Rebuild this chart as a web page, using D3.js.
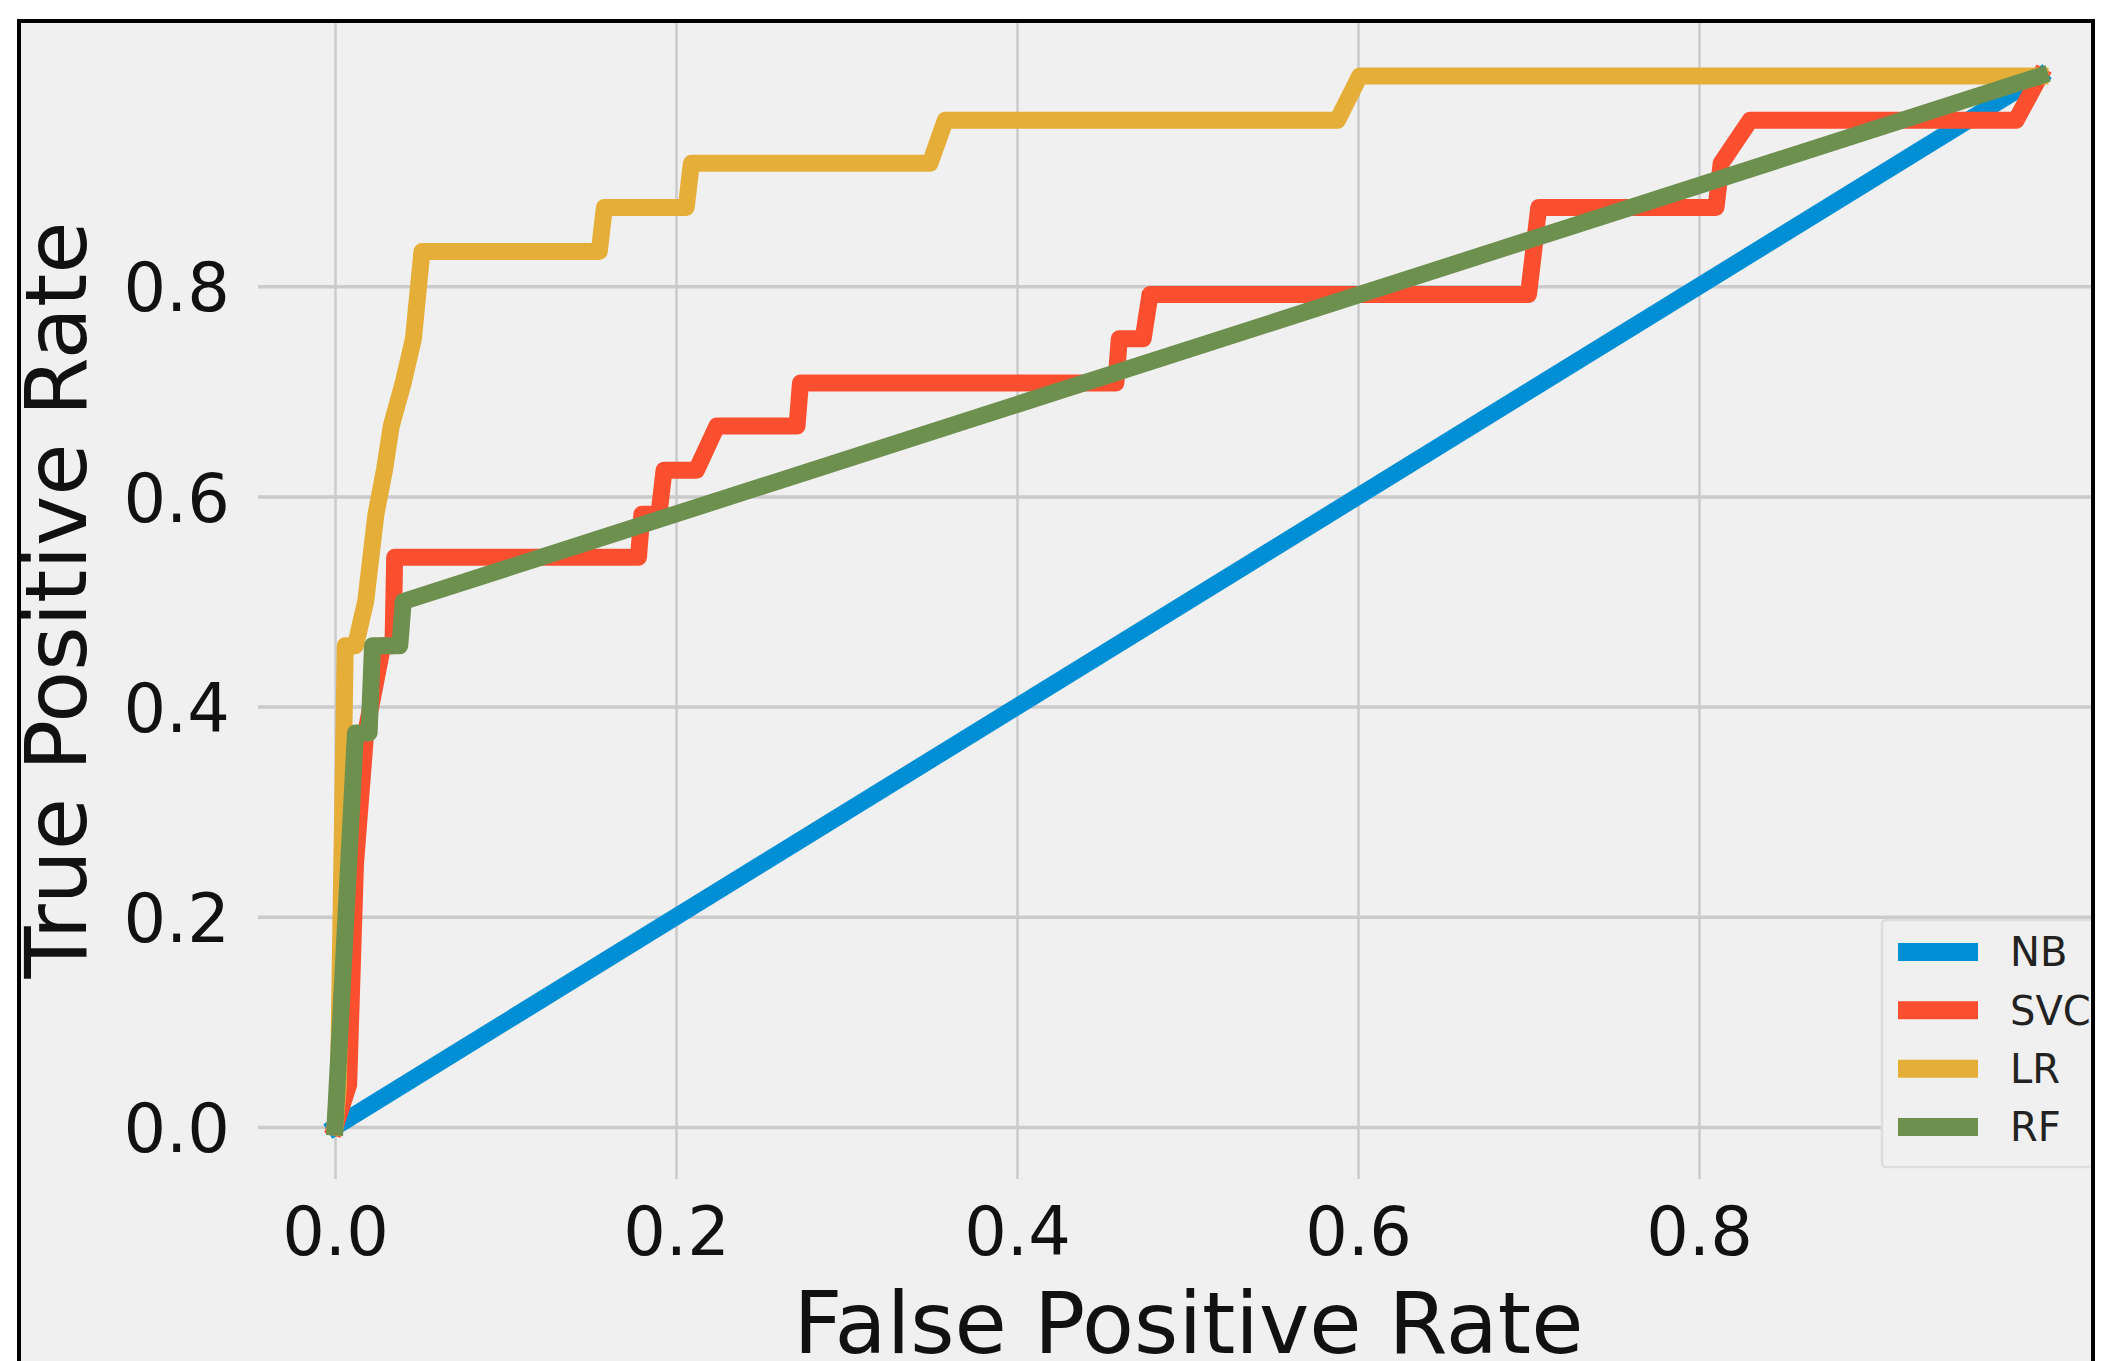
<!DOCTYPE html>
<html lang="en">
<head>
  <meta charset="UTF-8">
  <title>ROC curves</title>
  <script src="https://d3js.org/d3.v7.min.js"></script>
  <style>
    body { margin: 0; background: #fff; }
    svg { display: block; }
    .tick text { font-family: "DejaVu Sans", sans-serif; fill: #111; }
    .axis-label { font-family: "DejaVu Sans", sans-serif; font-size: 85px; fill: #111; }
    .legend text { font-family: "DejaVu Sans", sans-serif; font-size: 40px; fill: #222; }
  </style>
</head>
<body>
<svg id="chart"></svg>
<script>
  // ROC points
  const nbFpr  = [0, 1];
  const nbTpr  = [0, 1];

  const svcFpr = [0, 0.008, 0.012, 0.018, 0.028, 0.034, 0.035, 0.178, 0.18, 0.19, 0.193, 0.212, 0.224, 0.271, 0.273,
                  0.458, 0.46, 0.474, 0.478, 0.70, 0.703, 0.706, 0.81, 0.813, 0.83, 0.986, 1];
  const svcTpr = [0, 0.04, 0.25, 0.375, 0.458, 0.458, 0.542, 0.542, 0.583, 0.583, 0.625, 0.625, 0.667, 0.667, 0.708,
                  0.708, 0.75, 0.75, 0.792, 0.792, 0.833, 0.875, 0.875, 0.917, 0.958, 0.958, 1];

  const lrFpr  = [0, 0.002, 0.006, 0.012, 0.018, 0.024, 0.029, 0.033, 0.04, 0.046, 0.051, 0.155, 0.158, 0.206, 0.209,
                  0.349, 0.358, 0.588, 0.601, 1];
  const lrTpr  = [0, 0.04, 0.458, 0.458, 0.5, 0.583, 0.625, 0.667, 0.708, 0.75, 0.833, 0.833, 0.875, 0.875, 0.917,
                  0.917, 0.958, 0.958, 1, 1];

  const rfFpr  = [0, 0.012, 0.02, 0.022, 0.038, 0.04, 1];
  const rfTpr  = [0, 0.375, 0.375, 0.458, 0.458, 0.5, 1];

  const modelNames  = ["NB", "SVC", "LR", "RF"];
  const modelColors = ["#008fd5", "#fc4f30", "#e5ae38", "#6d904f"];
  const xTicks = [0, 0.2, 0.4, 0.6, 0.8];
  const yTicks = [0, 0.2, 0.4, 0.6, 0.8];

  const series = [
    {name: "NB",  fpr: nbFpr,  tpr: nbTpr},
    {name: "SVC", fpr: svcFpr, tpr: svcTpr},
    {name: "LR",  fpr: lrFpr,  tpr: lrTpr},
    {name: "RF",  fpr: rfFpr,  tpr: rfTpr}
  ];

  const width = 2125, height = 1361;
  const frame = {left: 19, top: 21, right: 2093};
  const ax = {left: 258, top: 23, right: 2125, bottom: 1179};

  const svg = d3.select("#chart").attr("width", width).attr("height", height);

  svg.append("defs").append("clipPath").attr("id", "frameClip")
    .append("rect")
    .attr("x", frame.left).attr("y", frame.top)
    .attr("width", frame.right - frame.left).attr("height", height - frame.top + 10);

  const fig = svg.append("g").attr("clip-path", "url(#frameClip)");
  fig.append("rect")
    .attr("x", 0).attr("y", 0).attr("width", width).attr("height", height)
    .attr("fill", "#f0f0f0");

  const x = d3.scaleLinear().domain([0, 1]).range([335, 2040]);
  const y = d3.scaleLinear().domain([0, 1]).range([1127, 76]);

  // grid + tick labels
  const yAxis = fig.append("g")
    .attr("transform", `translate(${ax.left},0)`)
    .call(d3.axisLeft(y).tickValues(yTicks).tickFormat(d3.format(".1f"))
      .tickSize(-(ax.right - ax.left)).tickPadding(28));
  const xAxis = fig.append("g")
    .attr("transform", `translate(0,${ax.bottom})`)
    .call(d3.axisBottom(x).tickValues(xTicks).tickFormat(d3.format(".1f"))
      .tickSize(-(ax.bottom - ax.top)).tickPadding(28));

  [xAxis, yAxis].forEach(a => {
    a.select(".domain").remove();
    a.selectAll(".tick line").attr("stroke", "#cbcbcb");
    a.selectAll(".tick text").style("font-size", "67px");
  });
  yAxis.selectAll(".tick line").attr("stroke-width", 3.5);
  xAxis.selectAll(".tick line").attr("stroke-width", 2.5);
  yAxis.selectAll(".tick text").attr("dy", "0.37em");

  // curves
  const line = d3.line().x(d => x(d[0])).y(d => y(d[1]));
  const color = d3.scaleOrdinal().domain(modelNames).range(modelColors);

  const plot = fig.append("g");
  plot.selectAll("path.roc")
    .data(series)
    .join("path")
    .attr("class", "roc")
    .attr("d", s => line(d3.zip(s.fpr, s.tpr)))
    .attr("fill", "none")
    .attr("stroke", s => color(s.name))
    .attr("stroke-width", 17)
    .attr("stroke-linejoin", "round")
    .attr("stroke-linecap", "square");

  // axis labels
  fig.append("text")
    .attr("class", "axis-label")
    .attr("x", (ax.left + ax.right) / 2 - 3)
    .attr("y", 1353)
    .attr("text-anchor", "middle")
    .text("False Positive Rate");

  fig.append("text")
    .attr("class", "axis-label")
    .attr("transform", "translate(86,600) rotate(-90)")
    .attr("text-anchor", "middle")
    .text("True Positive Rate");

  // legend
  const legend = fig.append("g").attr("class", "legend");
  legend.append("rect")
    .attr("x", 1882).attr("y", 920).attr("width", 260).attr("height", 247)
    .attr("rx", 4)
    .attr("fill", "#f0f0f0").attr("stroke", "#dddddd").attr("stroke-width", 2.5);

  const legendY = d3.scalePoint().domain(modelNames).range([952, 1127]);
  const items = legend.selectAll("g.item")
    .data(modelNames)
    .join("g")
    .attr("class", "item")
    .attr("transform", d => `translate(0,${legendY(d)})`);
  items.append("line")
    .attr("x1", 1898).attr("x2", 1978)
    .attr("stroke", d => color(d))
    .attr("stroke-width", 18);
  items.append("text")
    .attr("x", 2010).attr("dy", "0.36em")
    .text(d => d);

  // figure border
  svg.append("rect")
    .attr("x", frame.left).attr("y", frame.top)
    .attr("width", frame.right - frame.left).attr("height", height)
    .attr("fill", "none").attr("stroke", "#000").attr("stroke-width", 4);
</script>
</body>
</html>
